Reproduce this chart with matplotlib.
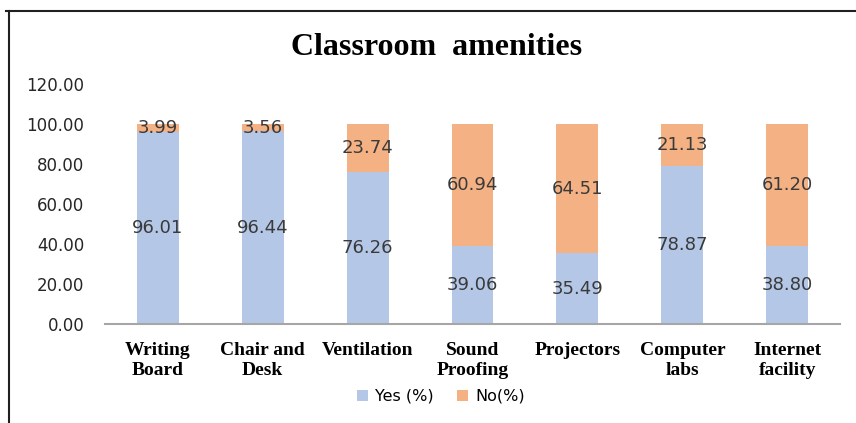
import numpy as np
import matplotlib
matplotlib.use('Agg')
import matplotlib.pyplot as plt
from matplotlib.lines import Line2D

# Data
categories = ['Writing\nBoard', 'Chair and\nDesk', 'Ventilation', 'Sound\nProofing',
              'Projectors', 'Computer\nlabs', 'Internet\nfacility']
yes_pct = [96.01, 96.44, 76.26, 39.06, 35.49, 78.87, 38.80]
no_pct = [3.99, 3.56, 23.74, 60.94, 64.51, 21.13, 61.20]
yticks = [0, 20, 40, 60, 80, 100, 120]

blue = '#b4c7e7'
orange = '#f4b183'

fig = plt.figure(figsize=(8.56, 4.23), dpi=100)
ax = fig.add_axes([0.123, 0.234, 0.858, 0.567])

x = np.arange(len(categories))
b1 = ax.bar(x, yes_pct, width=0.4, color=blue, label='Yes (%)')
b2 = ax.bar(x, no_pct, width=0.4, bottom=yes_pct, color=orange, label='No(%)')

# value labels in the middle of each segment
for i in range(len(categories)):
    ax.text(x[i], yes_pct[i] / 2, '%.2f' % yes_pct[i], ha='center', va='center',
            fontsize=13, color='#3a3a3a')
    ax.text(x[i], yes_pct[i] + no_pct[i] / 2, '%.2f' % no_pct[i], ha='center', va='center',
            fontsize=13, color='#3a3a3a')

ax.set_xlim(-0.5, len(categories) - 0.5)
ax.set_ylim(0, 120)
ax.set_yticks(yticks)
ax.set_yticklabels(['%.2f' % v for v in yticks], fontsize=12, color='#262626')
ax.set_xticks(x)
ax.set_xticklabels(categories, fontsize=14, fontweight='bold', family='Liberation Serif',
                   linespacing=1.25)
ax.tick_params(axis='both', length=0)
ax.tick_params(axis='y', pad=15)
ax.tick_params(axis='x', pad=13)
for s in ['top', 'right', 'left']:
    ax.spines[s].set_visible(False)
ax.spines['bottom'].set_color('#a6a6a6')
ax.spines['bottom'].set_linewidth(1.5)

fig.text(0.51, 0.888, 'Classroom  amenities', ha='center', va='center', fontsize=23,
         fontweight='bold', family='Liberation Serif')

fig.legend(handles=[b1, b2], loc='center', bbox_to_anchor=(0.515, 0.063), ncol=2,
           frameon=False, fontsize=11.5, handlelength=0.7, handleheight=0.7,
           columnspacing=1.5, handletextpad=0.4)

# outer frame (top and left edges)
fig.add_artist(Line2D([0.007, 1.0], [0.974, 0.974], color='#202020', lw=1.5))
fig.add_artist(Line2D([0.011, 0.011], [0.0, 0.974], color='#202020', lw=1.5))

plt.savefig('out.png', dpi=100)
